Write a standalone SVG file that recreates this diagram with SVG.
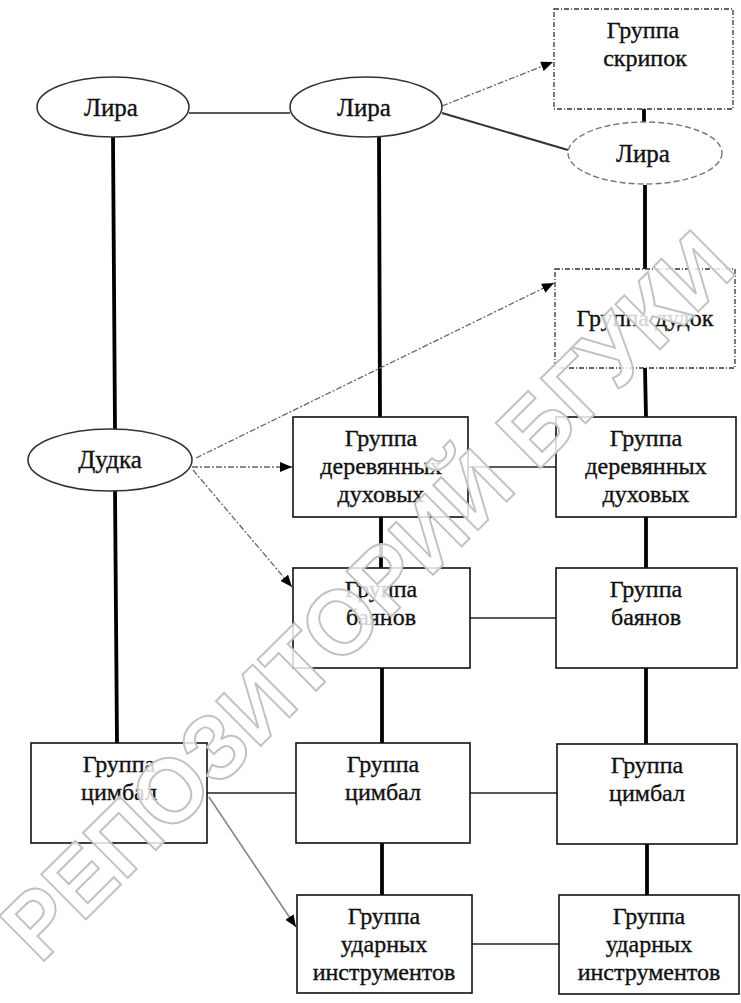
<svg xmlns="http://www.w3.org/2000/svg" width="741" height="1003" viewBox="0 0 741 1003">
<style>
.box{fill:#fff;stroke:#111;stroke-width:1.6}
.dbox{fill:#fff;stroke:#333;stroke-width:1.3;stroke-dasharray:5 2 1 2}
.ell{fill:#fff;stroke:#333;stroke-width:1.6}
.dell{fill:#fff;stroke:#777;stroke-width:1.4;stroke-dasharray:6 3}
.t{font-family:"Liberation Serif","Times New Roman",serif;font-size:24px;fill:#111;stroke:#111;stroke-width:0.35;text-anchor:middle}
.te{font-family:"Liberation Serif","Times New Roman",serif;font-size:25px;fill:#111;stroke:#111;stroke-width:0.35;text-anchor:middle}
.thick{stroke:#000;stroke-width:3.8;fill:none}
.thin{stroke:#222;stroke-width:1.3;fill:none}
.mid{stroke:#333;stroke-width:2;fill:none}
.dash{stroke:#666;stroke-width:1.3;fill:none;stroke-dasharray:6 2 2 2}
.grey{stroke:#888;stroke-width:1.6;fill:none}
.wm{font-family:"Liberation Sans",Arial,sans-serif;font-size:92px;font-weight:bold;fill:#fff;fill-opacity:0.82;stroke:#c2c2c2;stroke-width:2}
</style>
<defs>
<marker id="ah" viewBox="0 0 12 10" refX="12" refY="5" markerWidth="12" markerHeight="10" markerUnits="userSpaceOnUse" orient="auto">
<path d="M0,0 L12,5 L0,10 Z" fill="#000"/>
</marker>
</defs>
<rect width="741" height="1003" fill="#fff"/>
<g id="connectors">
<path class="thick" d="M113,137 L115,429 M115,490 L117,743"/>
<path class="thick" d="M379,137 L380,417 M381,517 L381,568 M382,668 L382,743 M382,843 L382,895"/>
<path class="thick" d="M644,109 L644,122 M645,185 L645,269 M645,368 L646,417 M646,517 L646,568 M646,668 L646,744 M647,844 L647,895"/>
<path class="thin" d="M189,113 L290,113"/>
<path class="mid" d="M442,113 L568,150"/>
<path class="dash" d="M442,106 L553,62" marker-end="url(#ah)"/>
<path class="dash" d="M196,458 L554,283" marker-end="url(#ah)"/>
<path class="dash" d="M192,467 L292,467" marker-end="url(#ah)"/>
<path class="dash" d="M193,470 L292,587" marker-end="url(#ah)"/>
<path class="thin" d="M468,467 L556,467"/>
<path class="thin" d="M470,618 L556,618"/>
<path class="thin" d="M207,793 L296,793 M470,793 L557,793"/>
<path class="thin" d="M472,944 L559,944"/>
<path class="grey" d="M209,797 L296,927" marker-end="url(#ah)"/>
</g>
<g id="lira1"><ellipse class="ell" cx="113" cy="107" rx="76" ry="30"/><text class="te" x="111" y="116">Лира</text></g>
<g id="lira2"><ellipse class="ell" cx="366" cy="107" rx="76" ry="30"/><text class="te" x="364" y="116">Лира</text></g>
<g id="skripok"><rect class="dbox" x="554" y="9" width="179" height="100"/><text class="t" x="643" y="38">Группа</text><text class="t" x="645" y="66">скрипок</text></g>
<g id="lira3"><ellipse class="dell" cx="645" cy="153" rx="77" ry="31"/><text class="te" x="643" y="162">Лира</text></g>
<g id="dudok"><rect class="dbox" x="555" y="269" width="180" height="99"/><text class="t" x="645" y="326">Группа дудок</text></g>
<g id="dudka"><ellipse class="ell" cx="110" cy="460" rx="82" ry="31"/><text class="te" x="110" y="468">Дудка</text></g>
<g id="derev1"><rect class="box" x="293" y="417" width="175" height="100"/><text class="t" x="381" y="446">Группа</text><text class="t" x="381" y="474">деревянных</text><text class="t" x="381" y="502">духовых</text></g>
<g id="derev2"><rect class="box" x="556" y="417" width="180" height="100"/><text class="t" x="646" y="446">Группа</text><text class="t" x="646" y="474">деревянных</text><text class="t" x="646" y="502">духовых</text></g>
<g id="bayan1"><rect class="box" x="293" y="568" width="177" height="100"/><text class="t" x="381" y="597">Группа</text><text class="t" x="381" y="625">баянов</text></g>
<g id="bayan2"><rect class="box" x="556" y="568" width="181" height="100"/><text class="t" x="646" y="597">Группа</text><text class="t" x="646" y="625">баянов</text></g>
<g id="cimbal0"><rect class="box" x="31" y="743" width="176" height="100"/><text class="t" x="119" y="772">Группа</text><text class="t" x="119" y="800">цимбал</text></g>
<g id="cimbal1"><rect class="box" x="296" y="743" width="174" height="100"/><text class="t" x="383" y="772">Группа</text><text class="t" x="383" y="800">цимбал</text></g>
<g id="cimbal2"><rect class="box" x="557" y="744" width="180" height="100"/><text class="t" x="647" y="773">Группа</text><text class="t" x="647" y="801">цимбал</text></g>
<g id="udar1"><rect class="box" x="297" y="895" width="175" height="98"/><text class="t" x="384" y="924">Группа</text><text class="t" x="384" y="952">ударных</text><text class="t" x="384" y="980">инструментов</text></g>
<g id="udar2"><rect class="box" x="559" y="895" width="180" height="99"/><text class="t" x="649" y="924">Группа</text><text class="t" x="649" y="952">ударных</text><text class="t" x="649" y="980">инструментов</text></g>
<g id="watermark"><text class="wm" transform="translate(40,965) rotate(-44.8)" textLength="985" lengthAdjust="spacingAndGlyphs">РЕПОЗИТОРИЙ БГУКИ</text></g>
</svg>
